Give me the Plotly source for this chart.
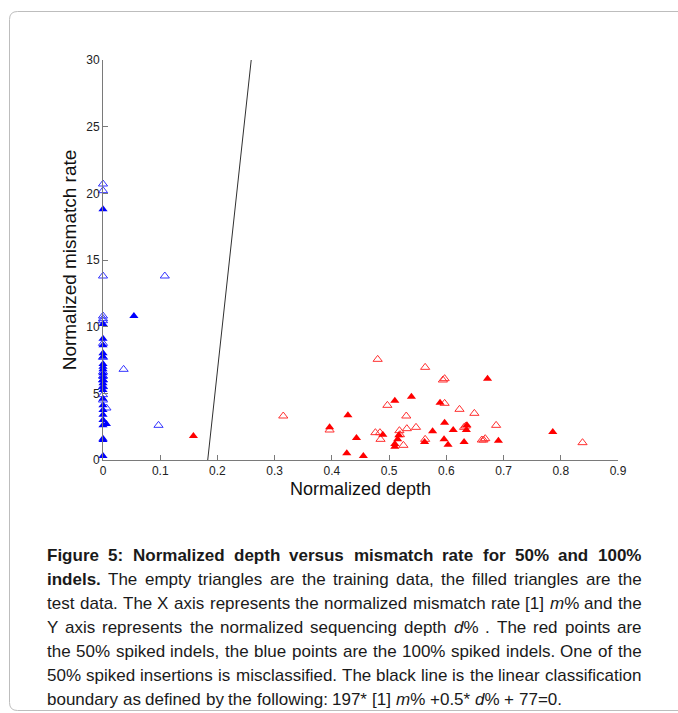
import re
import plotly.graph_objects as go

# ---------------- data ----------------
blue_train_x = [0, 0, 0, 0.108, 0, 0, 0, 0, 0, 0.036, 0, 0, 0, 0, 0, 0, 0.006, 0.097]
blue_train_y = [20.7, 20.2, 13.8, 13.8, 10.8, 10.6, 10.45, 8.75, 7.7, 6.8, 6.6, 6.3, 6.0, 5.5, 4.9, 4.5, 3.9, 2.6]

blue_test_x = [0, 0.054, 0, 0, 0, 0, 0, 0, 0, 0, 0, 0, 0, 0, 0, 0, 0, 0, 0, 0, 0, 0.006, 0, 0, 0, 0]
blue_test_y = [18.8, 10.8, 10.2, 9.1, 8.6, 8.0, 7.75, 7.2, 7.0, 6.8, 6.5, 6.25, 6.0, 5.75, 5.5, 5.25,
               4.6, 4.1, 3.75, 3.4, 3.0, 2.7, 2.6, 1.6, 1.5, 0.3]

red_train_x = [0.315, 0.396, 0.476, 0.484, 0.485, 0.480, 0.497, 0.518, 0.519, 0.525, 0.530, 0.531, 0.547,
               0.563, 0.563, 0.594, 0.597, 0.597, 0.623, 0.631, 0.634, 0.649, 0.662, 0.665, 0.668, 0.687, 0.838]
red_train_y = [3.3, 2.25, 2.05, 2.05, 1.55, 7.55, 4.1, 2.2, 1.9, 1.1, 3.3, 2.35, 2.45,
               6.95, 1.55, 6.0, 6.1, 4.25, 3.8, 2.45, 2.55, 3.5, 1.5, 1.5, 1.6, 2.6, 1.3]

red_test_x = [0.158, 0.396, 0.426, 0.428, 0.443, 0.455, 0.489, 0.510, 0.510, 0.510, 0.515, 0.517, 0.539,
              0.562, 0.576, 0.589, 0.596, 0.597, 0.603, 0.612, 0.631, 0.635, 0.636, 0.672, 0.691, 0.786]
red_test_y = [1.8, 2.45, 0.5, 3.35, 1.65, 0.3, 1.9, 4.45, 1.0, 1.2, 1.55, 1.85, 4.75,
              1.35, 2.15, 4.3, 1.55, 2.8, 1.15, 2.25, 1.35, 2.25, 2.6, 6.1, 1.45, 2.1]

boundary_x = [0.183, 0.259]
boundary_y = [0, 30]

x_ticks = [0, 0.1, 0.2, 0.3, 0.4, 0.5, 0.6, 0.7, 0.8, 0.9]
y_ticks = [0, 5, 10, 15, 20, 25, 30]

caption_lines = [
    ("Figure 5: Normalized depth versus mismatch rate for 50% and 100%", 99, True),
    ("indels. The empty triangles are the training data, the filled triangles are the", 1, True),
    ("test data. The X axis represents the normalized mismatch rate [1] <i>m</i>% and the", 0, True),
    ("Y axis represents the normalized sequencing depth <i>d</i>% . The red points are", 0, True),
    ("the 50% spiked indels, the blue points are the 100% spiked indels. One of the", 0, True),
    ("50% spiked insertions is misclassified. The black line is the linear classification", 0, True),
    ("boundary as defined by the following: 197* [1] <i>m</i>% +0.5* <i>d</i>% + 77=0.", 0, False),
]

# ---------------- layout geometry ----------------
W, H = 678, 713
L, R, T, B = 103, 60, 60, 253
PW, PH = W - L - R, H - T - B


def px2paper_x(px):
    return (px - L) / PW


def px2paper_y(py):
    return (H - B - py) / PH


fig = go.Figure()

fig.add_trace(go.Scatter(x=boundary_x, y=boundary_y, mode="lines",
                         line=dict(color="#303030", width=1), showlegend=False, cliponaxis=False))

mk = 8
fig.add_trace(go.Scatter(x=blue_train_x, y=blue_train_y, mode="markers", cliponaxis=False, showlegend=False,
                         marker=dict(symbol="triangle-up-open", size=mk, color="#3535ff", line=dict(width=1))))
fig.add_trace(go.Scatter(x=blue_test_x, y=blue_test_y, mode="markers", cliponaxis=False, showlegend=False,
                         marker=dict(symbol="triangle-up", size=mk, color="#0000ff", line=dict(width=0))))
fig.add_trace(go.Scatter(x=red_train_x, y=red_train_y, mode="markers", cliponaxis=False, showlegend=False,
                         marker=dict(symbol="triangle-up-open", size=mk, color="#ff3030", line=dict(width=1))))
fig.add_trace(go.Scatter(x=red_test_x, y=red_test_y, mode="markers", cliponaxis=False, showlegend=False,
                         marker=dict(symbol="triangle-up", size=mk, color="#ff0000", line=dict(width=0))))

font_family = "Liberation Sans, Arial, Helvetica, sans-serif"
axis_common = dict(showline=True, linecolor="#7a7a7a", linewidth=1, ticks="inside", ticklen=5,
                   tickcolor="#7a7a7a", showgrid=False, zeroline=False,
                   tickfont=dict(family=font_family, size=12, color="#222"))

fig.update_xaxes(range=[0, 0.9], tickvals=x_ticks, ticktext=[f"{v:g}" for v in x_ticks],
                 title=dict(text="Normalized depth", font=dict(family=font_family, size=18, color="#111"),
                            standoff=4), **axis_common)
fig.update_yaxes(range=[0, 30], tickvals=y_ticks,
                 title=dict(text="Normalized mismatch rate", font=dict(family=font_family, size=19, color="#111"),
                            standoff=4), **axis_common)

# ---------------- caption (justified word by word) ----------------
REG = {' ': 278, '!': 278, '%': 889, '*': 389, '+': 584, ',': 278, '-': 333, '.': 278, ':': 278, '=': 584,
       '[': 278, ']': 278, '0': 556, '1': 556, '2': 556, '3': 556, '4': 556, '5': 556, '6': 556, '7': 556,
       '8': 556, '9': 556,
       'A': 667, 'B': 667, 'C': 722, 'D': 722, 'E': 667, 'F': 611, 'G': 778, 'H': 722, 'I': 278, 'J': 500,
       'K': 667, 'L': 556, 'M': 833, 'N': 722, 'O': 778, 'P': 667, 'Q': 778, 'R': 722, 'S': 667, 'T': 611,
       'U': 722, 'V': 667, 'W': 944, 'X': 667, 'Y': 667, 'Z': 611,
       'a': 556, 'b': 556, 'c': 500, 'd': 556, 'e': 556, 'f': 278, 'g': 556, 'h': 556, 'i': 222, 'j': 222,
       'k': 500, 'l': 222, 'm': 833, 'n': 556, 'o': 556, 'p': 556, 'q': 556, 'r': 333, 's': 500, 't': 278,
       'u': 556, 'v': 500, 'w': 722, 'x': 500, 'y': 500, 'z': 500}
BOLD = dict(REG)
BOLD.update({':': 333, 'a': 556, 'b': 611, 'c': 556, 'd': 611, 'e': 556, 'f': 333, 'g': 611, 'h': 611,
             'i': 278, 'j': 278, 'k': 556, 'l': 278, 'm': 889, 'n': 611, 'o': 611, 'p': 611, 'q': 611,
             'r': 389, 's': 556, 't': 333, 'u': 611, 'v': 556, 'w': 778, 'x': 556, 'y': 556, 'z': 500})

fs = 17
cap_left, cap_right = 47, 641.5
line_y0, line_dy = 555, 24.1


def wwidth(word, bold):
    plain = re.sub(r"<[^>]+>", "", word)
    tbl = BOLD if bold else REG
    return sum(tbl.get(c, 556) for c in plain) * fs / 1000.0


annotations = []
for li, (text, nbold, justify) in enumerate(caption_lines):
    words = text.split(" ")
    bolds = [i < nbold for i in range(len(words))]
    widths = [wwidth(w, b) for w, b in zip(words, bolds)]
    if justify and len(words) > 1:
        gap = (cap_right - cap_left - sum(widths)) / (len(words) - 1)
    else:
        gap = REG[' '] * fs / 1000.0
    xcur = cap_left
    py = line_y0 + li * line_dy
    for w, b, wd in zip(words, bolds, widths):
        annotations.append(dict(
            text=f"<b>{w}</b>" if b else w, x=px2paper_x(xcur), y=px2paper_y(py),
            xref="paper", yref="paper", xanchor="left", yanchor="middle", showarrow=False,
            borderpad=0, borderwidth=0,
            font=dict(family=font_family, size=fs, color="#1a1a1a")))
        xcur += wd + gap

# rounded frame
fx0, fy0, fy1, r = 9.5, 11.5, 710.5, 8
frame_path = (f"M {px2paper_x(700)},{px2paper_y(fy0)} L {px2paper_x(fx0 + r)},{px2paper_y(fy0)} "
              f"Q {px2paper_x(fx0)},{px2paper_y(fy0)} {px2paper_x(fx0)},{px2paper_y(fy0 + r)} "
              f"L {px2paper_x(fx0)},{px2paper_y(fy1 - r)} "
              f"Q {px2paper_x(fx0)},{px2paper_y(fy1)} {px2paper_x(fx0 + r)},{px2paper_y(fy1)} "
              f"L {px2paper_x(700)},{px2paper_y(fy1)}")

fig.update_layout(
    width=W, height=H, margin=dict(l=L, r=R, t=T, b=B, autoexpand=False),
    paper_bgcolor="white", plot_bgcolor="white",
    font=dict(family=font_family),
    annotations=annotations,
    shapes=[dict(type="path", path=frame_path, xref="paper", yref="paper",
                 line=dict(color="#bdbdbd", width=1), layer="below")],
)

fig.write_html("out.html")
